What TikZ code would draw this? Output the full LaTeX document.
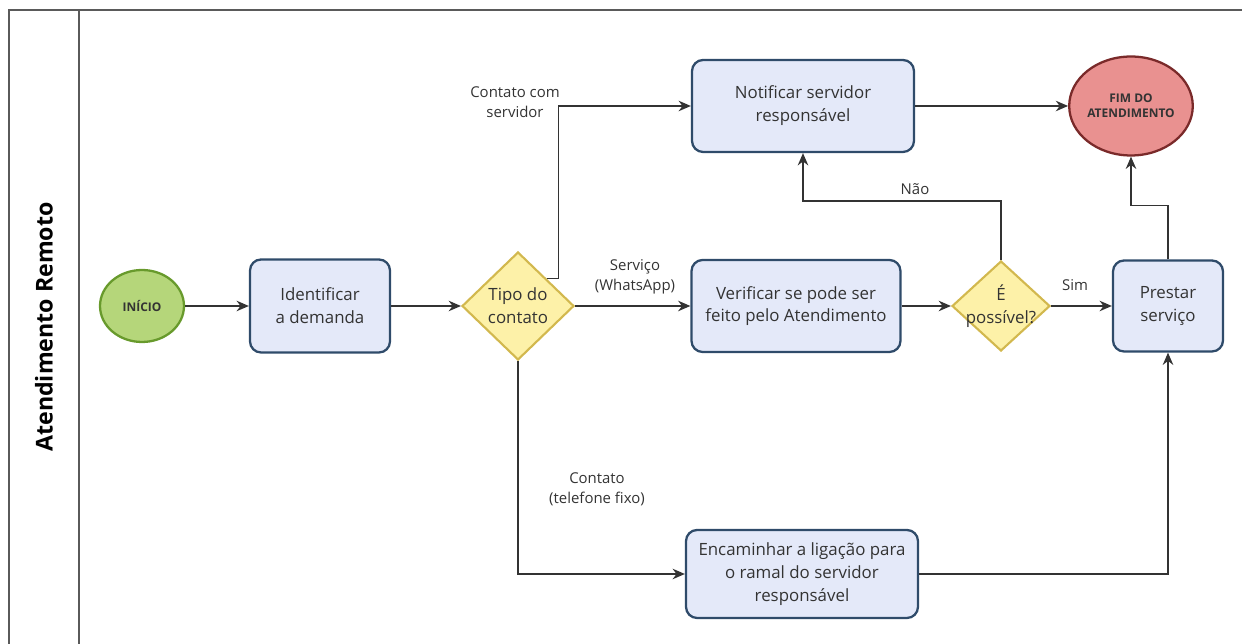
\documentclass[tikz,border=0pt]{standalone}
\usepackage{fontspec}
\setmainfont{Open Sans}
\usepackage{tikz}
\usetikzlibrary{positioning}
\usetikzlibrary{shapes.geometric, arrows, arrows.meta}
\definecolor{boxfill}{HTML}{E4E9F9}
\definecolor{boxline}{HTML}{2F4B6A}
\definecolor{decfill}{HTML}{FDF1A8}
\definecolor{decline}{HTML}{D2B84E}
\definecolor{inifill}{HTML}{B5D67A}
\definecolor{iniline}{HTML}{689A2C}
\definecolor{fimfill}{HTML}{E99190}
\definecolor{fimline}{HTML}{7A2A2A}
\definecolor{txt}{HTML}{333333}
\definecolor{lanegray}{HTML}{5A5A5A}
\tikzstyle{task} = [rectangle, rounded corners=0.22cm, draw=boxline, fill=boxfill, line width=1.3pt, align=center, text=txt, font=\fontsize{9.6}{13}\selectfont]
\tikzstyle{decision} = [diamond, draw=decline, fill=decfill, line width=1.2pt, inner sep=0pt]
\tikzstyle{event} = [ellipse, line width=1.3pt, align=center, inner sep=0pt, text=txt, font=\bfseries\fontsize{6.8}{8.5}\selectfont]
\tikzstyle{flowlbl} = [align=center, text=txt, font=\fontsize{8.5}{11.5}\selectfont]
\tikzstyle{arrow} = [thick,-{Stealth[length=7pt,width=6pt]}, draw=txt]
\tikzstyle{frame} = [draw=lanegray, line width=1.2pt]

\begin{document}
\begin{tikzpicture}[x=0.02cm, y=-0.02cm]
      \useasboundingbox (0,0) rectangle (1242,644);
      % pool
      \draw[frame] (9,644) -- (9,10) -- (1242,10);
      \draw[frame] (79,10) -- (79,644);
      \node[rotate=90, text=black, font=\bfseries\fontsize{13.2}{16}\selectfont] (lane) at (44,327) {Atendimento Remoto};
      % nodes
      \node[event, fill=inifill, draw=iniline, minimum width=1.68cm, minimum height=1.44cm] (ini) at (142,306) {INÍCIO};
      \node[task, minimum width=2.8cm, minimum height=1.86cm] (ident) at (320,306) {Identificar\\a demanda};
      \node[decision, minimum width=2.24cm, minimum height=2.16cm, label={[align=center, text=txt, font=\fontsize{9.6}{13}\selectfont]center:Tipo do\\contato}] (tipo) at (518,306) {};
      \node[task, minimum width=4.44cm, minimum height=1.84cm] (notif) at (803,106) {Notificar servidor\\responsável};
      \node[event, fill=fimfill, draw=fimline, minimum width=2.08cm, minimum height=1.98cm] (fim) at (1131,106) {FIM DO\\ATENDIMENTO};
      \node[task, minimum width=4.18cm, minimum height=1.84cm] (verif) at (796,306) {Verificar se pode ser\\feito pelo Atendimento};
      \node[decision, minimum width=1.96cm, minimum height=1.8cm, label={[align=center, text=txt, font=\fontsize{9.6}{13}\selectfont]center:É\\possível?}] (poss) at (1001,306) {};
      \node[task, minimum width=2.2cm, minimum height=1.82cm] (prest) at (1168,306) {Prestar\\serviço};
      \node[task, minimum width=4.64cm, minimum height=1.76cm] (encam) at (802,574) {Encaminhar a ligação para\\o ramal do servidor\\responsável};
      % labels
      \node[flowlbl] (lblserv) at (515,102) {Contato com\\servidor};
      \node[flowlbl] (lblzap) at (635,277) {Serviço\\(WhatsApp)};
      \node[flowlbl] (lblfixo) at (597,489) {Contato\\(telefone fixo)};
      \node[flowlbl] (lblnao) at (915,189) {Não};
      \node[flowlbl] (lblsim) at (1075,285) {Sim};
      % connectors
      \draw[arrow] (ini) -- (ident);
      \draw[arrow] (ident) -- (tipo);
      \draw[arrow] (tipo.north east) -- ++(12,0) |- (notif.west);
      \draw[arrow] (tipo) -- (verif);
      \draw[arrow] (tipo.south) |- (encam.west);
      \draw[arrow] (verif) -- (poss);
      \draw[arrow] (poss) -- (prest);
      \draw[arrow] (poss.north) -- ++(0,-59) -| (notif.south);
      \draw[arrow] (notif) -- (fim);
      \draw[arrow] (prest.north) -- ++(0,-54) -| (fim.south);
      \draw[arrow] (encam.east) -| (prest.south);
\end{tikzpicture}
\end{document}
